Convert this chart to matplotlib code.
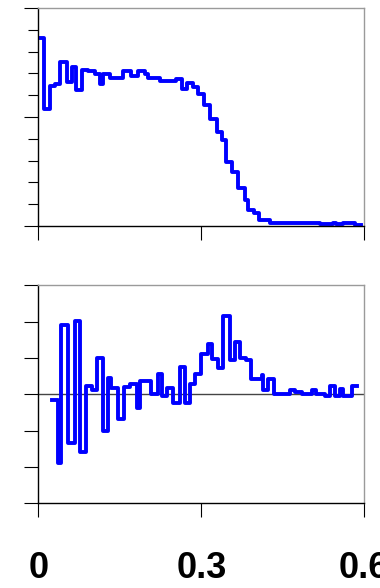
import numpy as np
import matplotlib
matplotlib.use("Agg")
import matplotlib.pyplot as plt

# ─── data ───────────────────────────────────────────────────────────────────
# top panel: step positions and levels
top_x = [0.000, 0.010, 0.021, 0.030, 0.039, 0.052, 0.061, 0.070, 0.081, 0.092,
         0.104, 0.113, 0.119, 0.131, 0.155, 0.171, 0.184, 0.196, 0.202, 0.224,
         0.254, 0.264, 0.273, 0.285, 0.294, 0.305, 0.316, 0.328, 0.339, 0.346,
         0.356, 0.368, 0.380, 0.386, 0.397, 0.407, 0.426, 0.518, 0.543, 0.549,
         0.561, 0.583, 0.595]
top_y = [0.864, 0.536, 0.642, 0.654, 0.753, 0.662, 0.730, 0.626, 0.718, 0.712,
         0.700, 0.654, 0.700, 0.681, 0.711, 0.690, 0.711, 0.700, 0.681, 0.665,
         0.674, 0.631, 0.657, 0.636, 0.608, 0.553, 0.490, 0.432, 0.394, 0.294,
         0.248, 0.176, 0.118, 0.072, 0.057, 0.026, 0.011, 0.008, 0.011, 0.008,
         0.011, 0.005, 0.005]

# bottom panel
bot_x = [0.024, 0.036, 0.042, 0.055, 0.067, 0.076, 0.088, 0.098, 0.107, 0.119,
         0.128, 0.134, 0.147, 0.157, 0.168, 0.181, 0.187, 0.208, 0.220, 0.228,
         0.236, 0.248, 0.260, 0.270, 0.279, 0.288, 0.300, 0.313, 0.319, 0.331,
         0.340, 0.353, 0.362, 0.371, 0.383, 0.392, 0.411, 0.414, 0.423, 0.434,
         0.463, 0.472, 0.485, 0.503, 0.512, 0.528, 0.537, 0.546, 0.555, 0.561,
         0.577, 0.586]
bot_y = [-0.165, -1.88, 1.90, -1.33, 2.01, -1.59, 0.23, 0.11, 1.01, -1.00,
         0.46, 0.16, -0.67, 0.20, 0.29, -0.39, 0.36, 0.00, 0.57, -0.05,
         0.16, -0.23, 0.75, -0.23, 0.29, 0.57, 1.12, 1.39, 0.98, 0.73,
         2.16, 0.94, 1.44, 1.01, 0.95, 0.43, 0.52, 0.11, 0.41, 0.02,
         0.13, 0.06, 0.02, 0.13, 0.02, -0.05, 0.23, -0.05, 0.14, -0.05,
         0.23, 0.23]

x_ticks = [0, 0.3, 0.6]
x_labels = ["0", "0.3", "0.6"]

# ─── figure ─────────────────────────────────────────────────────────────────
BLUE = "#0000ff"
GRAY = "#9a9a9a"

fig = plt.figure(figsize=(3.8, 5.88), dpi=100)
ax1 = fig.add_axes([0.1013, 0.616, 0.857, 0.370])
ax2 = fig.add_axes([0.1013, 0.144, 0.857, 0.371])

def style(ax):
    ax.spines["left"].set_color("black")
    ax.spines["bottom"].set_color("black")
    ax.spines["top"].set_color(GRAY)
    ax.spines["right"].set_color(GRAY)
    for s in ax.spines.values():
        s.set_linewidth(1.0)
    ax.set_xlim(0, 0.6)
    ax.set_xticks(x_ticks)
    ax.tick_params(axis="both", which="major", direction="out", length=10,
                   width=0.8, color="black")
    ax.tick_params(axis="both", which="minor", direction="out", length=7,
                   width=0.8, color="black")
    ax.tick_params(axis="y", labelleft=False)

style(ax1)
ax1.step(top_x, top_y, where="post", color=BLUE, lw=2.8)
ax1.set_ylim(0, 1)
ax1.set_yticks([0, 0.5, 1.0])
ax1.set_yticks(np.arange(0.1, 1.0, 0.1), minor=True)
ax1.tick_params(axis="x", labelbottom=False)

style(ax2)
ax2.axhline(0, color="#444444", lw=1.0, zorder=1)
ax2.step(bot_x, bot_y, where="post", color=BLUE, lw=2.8, zorder=2)
ax2.set_ylim(-3, 3)
ax2.set_yticks(np.arange(-3, 4, 1))
ax2.set_xticklabels(x_labels, fontsize=26, fontweight="bold",
                    family=["Liberation Sans", "DejaVu Sans"])
ax2.tick_params(axis="x", pad=24)

fig.savefig("out.png", dpi=100)
